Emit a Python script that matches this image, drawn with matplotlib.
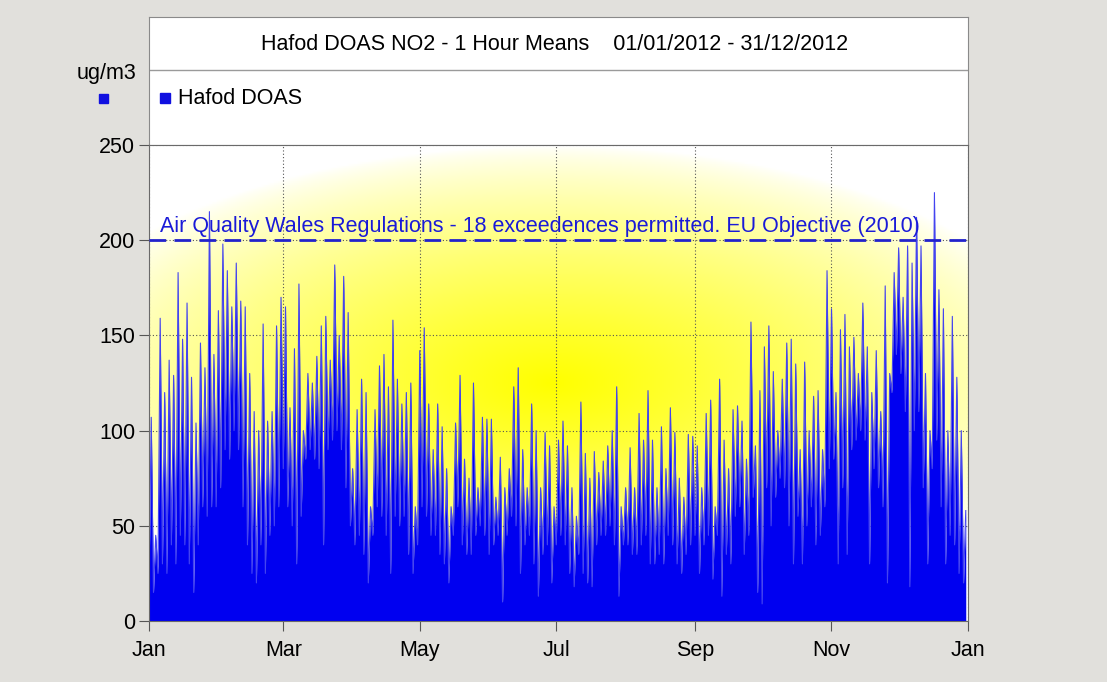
import numpy as np
import pandas as pd
import matplotlib
matplotlib.use('Agg')
import matplotlib.pyplot as plt
import matplotlib.dates as mdates
from matplotlib.colors import LinearSegmentedColormap

plt.rcParams['font.family'] = ['Liberation Sans', 'DejaVu Sans']

# ---- data: NO2 1-hour means, read as two-day peak / trough pairs (ug/m3) ----
peaks = [107, 45, 159, 120, 137, 129, 183, 148, 167, 128, 104, 146, 133, 215, 140, 163,
         198, 184, 165, 188, 168, 165, 130, 110, 100, 156, 105, 110, 155, 170, 165,
         112, 143, 177, 100, 130, 125, 139, 155, 160, 137, 187, 150, 181, 162, 80,
         111, 127, 120, 60, 111, 134, 140, 123, 158, 127, 114, 120, 125, 60, 142,
         154, 114, 90, 114, 102, 80, 60, 104, 129, 85, 75, 125, 70, 107, 106,
         106, 65, 86, 70, 80, 123, 133, 90, 70, 114, 100, 70, 99, 92, 60,
         95, 105, 92, 70, 55, 115, 88, 75, 89, 78, 84, 92, 100, 123, 60,
         70, 91, 70, 109, 95, 121, 95, 70, 102, 80, 112, 99, 75, 65, 98,
         97, 92, 70, 109, 116, 60, 127, 95, 80, 111, 113, 105, 85, 157, 92, 121,
         144, 155, 131, 100, 127, 146, 148, 135, 90, 136, 100, 118, 121, 90, 184,
         164, 120, 153, 161, 144, 149, 130, 167, 144, 120, 142, 110, 176, 130, 183, 196,
         170, 197, 188, 212, 197, 130, 100, 225, 174, 164, 100, 160, 128, 100, 58]
troughs = [20, 15, 25, 30, 25, 40, 30, 45, 40, 30, 15, 40, 60, 55, 60, 60,
           70, 90, 85, 100, 90, 60, 40, 25, 20, 40, 25, 45, 50, 60, 80,
           60, 50, 30, 55, 85, 90, 85, 80, 40, 90, 95, 100, 90, 70, 50,
           40, 45, 35, 20, 45, 60, 55, 45, 25, 55, 50, 55, 35, 25, 40,
           60, 55, 45, 45, 35, 30, 20, 45, 60, 40, 35, 35, 45, 50, 45,
           35, 40, 45, 10, 45, 55, 50, 25, 40, 45, 30, 13, 35, 40, 20,
           40, 45, 40, 25, 18, 35, 25, 20, 18, 40, 45, 45, 50, 40, 13,
           40, 40, 35, 35, 40, 45, 30, 30, 35, 30, 45, 40, 30, 25, 35,
           40, 45, 25, 40, 45, 22, 45, 13, 35, 30, 55, 60, 35, 45, 65, 15,
           9, 70, 50, 65, 75, 70, 50, 30, 55, 30, 50, 60, 40, 45, 60,
           80, 85, 30, 70, 35, 90, 95, 100, 95, 30, 80, 70, 60, 20, 120, 140,
           130, 110, 18, 100, 110, 70, 30, 80, 95, 60, 30, 45, 40, 25, 20]

limit_value = 200
limit_text = 'Air Quality Wales Regulations - 18 exceedences permitted. EU Objective (2010)'
title = 'Hafod DOAS NO2 - 1 Hour Means    01/01/2012 - 31/12/2012'
series_name = 'Hafod DOAS'
y_ticks = [0, 50, 100, 150, 200, 250]

# zigzag: trough on even days, peak on odd days
days = pd.date_range('2012-01-01', periods=2 * len(peaks), freq='D')
vals = np.column_stack([troughs, peaks]).ravel()
t = mdates.date2num(days)

W, H = 1107, 682
FS = 15.5
fig = plt.figure(figsize=(W / 100, H / 100), dpi=100)
fig.patch.set_facecolor('#e1e0dc')

def fx(px):
    return px / W

def fy(py):
    return 1 - py / H

# white frame with title and legend panels
L, R = 149, 968
top_ax = fig.add_axes([fx(L), fy(145), fx(R - L), fy(17) - fy(145)])
top_ax.set_xlim(0, 1)
top_ax.set_ylim(0, 1)
top_ax.set_xticks([])
top_ax.set_yticks([])
for s in top_ax.spines.values():
    s.set_color('#8a8a8a')
top_ax.axhline((145 - 70) / (145 - 17), color='#9a9a9a', lw=1)
top_ax.text(0.495, (145 - 45) / 128, title, ha='center', va='center', fontsize=FS)
top_ax.plot([0.02], [(145 - 98) / 128], 's', color='#1010e0', ms=6.5)
top_ax.text(0.035, (145 - 98) / 128, series_name, ha='left', va='center', fontsize=FS)

fig.text(fx(107), fy(73), 'ug/m3', ha='center', va='center', fontsize=FS)
fig.patches.append(plt.Rectangle((fx(99), fy(103)), fx(9), fy(94) - fy(103),
                                 transform=fig.transFigure, color='#1010e0'))

ax = fig.add_axes([fx(L), fy(621), fx(R - L), fy(145) - fy(621)])
x0 = mdates.date2num(pd.Timestamp('2012-01-01'))
x1 = mdates.date2num(pd.Timestamp('2013-01-01'))
ax.set_xlim(x0, x1)
ax.set_ylim(0, 250)

# radial yellow background
gx = np.linspace(x0, x1, 400)
gy = np.linspace(0, 250, 250)
GX, GY = np.meshgrid(gx, gy)
d = np.sqrt(((GX - (x0 + 180)) / 235) ** 2 + ((GY - 125) / 125) ** 2)
g = np.clip(1 - d, 0, 1) ** 0.75
cmap = LinearSegmentedColormap.from_list('wy', ['#ffffff', '#ffff00'])
ax.imshow(g, extent=[x0, x1, 0, 250], origin='lower', aspect='auto', cmap=cmap,
          vmin=0, vmax=1, zorder=0)

ax.grid(True, ls=(0, (1, 2)), color='#555555', lw=0.8, zorder=1)
ax.fill_between(t, 0, vals, color='#0000f0', lw=0, zorder=2)
ax.plot(t, vals, color='#4444f0', lw=0.8, zorder=2)

ax.axhline(limit_value, color='#2222cc', lw=2, ls=(0, (6, 3)), zorder=3)
ax.text(x0 + 5, limit_value + 1.5, limit_text, color='#1a1ad8', fontsize=FS,
        ha='left', va='bottom', zorder=4)

ax.set_yticks(y_ticks)
ax.xaxis.set_major_locator(mdates.MonthLocator(bymonth=[1, 3, 5, 7, 9, 11]))
ax.xaxis.set_major_formatter(mdates.DateFormatter('%b'))
ax.tick_params(labelsize=FS, length=7, color='#555555')
ax.tick_params(axis='x', pad=7)
ax.tick_params(axis='y', pad=3)
for s in ax.spines.values():
    s.set_color('#6a6a6a')

fig.savefig('out.png', dpi=100, facecolor=fig.get_facecolor())
